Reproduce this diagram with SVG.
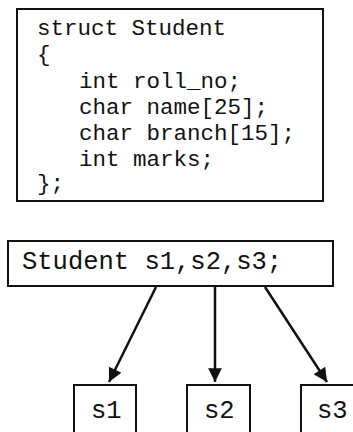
<svg xmlns="http://www.w3.org/2000/svg" width="353" height="432" viewBox="0 0 353 432">
  <style>
    .box { fill: #fff; stroke: #111; stroke-width: 2; }
    .code { font-family: "Liberation Mono", "Courier New", monospace; fill: #111; }
    .conn { stroke: #111; stroke-width: 2.5; fill: none; marker-end: url(#head); }
  </style>
  <defs>
    <marker id="head" viewBox="0 0 10 10" refX="10" refY="5" markerWidth="6" markerHeight="5.5" markerUnits="strokeWidth" orient="auto">
      <path d="M0,0 L10,5 L0,10 z" fill="#111"/>
    </marker>
  </defs>
  <rect width="353" height="432" fill="#fff"/>

  <g id="struct-def">
    <rect class="box" x="17" y="9" width="306" height="192"/>
    <g class="code" font-size="22.5">
      <text x="37" y="35">struct Student</text>
      <text x="37" y="61">{</text>
      <text x="79" y="88">int roll_no;</text>
      <text x="79" y="114">char name[25];</text>
      <text x="79" y="140">char branch[15];</text>
      <text x="79" y="166">int marks;</text>
      <text x="37" y="190">};</text>
    </g>
  </g>

  <g id="decl">
    <rect class="box" x="8" y="241" width="325" height="45"/>
    <text class="code" x="22" y="269" font-size="25.5">Student s1,s2,s3;</text>
  </g>

  <g id="connectors">
    <line class="conn" x1="156" y1="287" x2="109" y2="382"/>
    <line class="conn" x1="215" y1="287" x2="215" y2="382"/>
    <line class="conn" x1="265" y1="287" x2="327" y2="382"/>
  </g>

  <g id="s1">
    <rect class="box" x="74" y="385" width="62" height="60"/>
    <text class="code" x="91" y="418" font-size="25.5">s1</text>
  </g>
  <g id="s2">
    <rect class="box" x="187" y="385" width="63" height="60"/>
    <text class="code" x="204" y="418" font-size="25.5">s2</text>
  </g>
  <g id="s3">
    <rect class="box" x="301" y="385" width="62" height="60"/>
    <text class="code" x="317" y="418" font-size="25.5">s3</text>
  </g>
</svg>
